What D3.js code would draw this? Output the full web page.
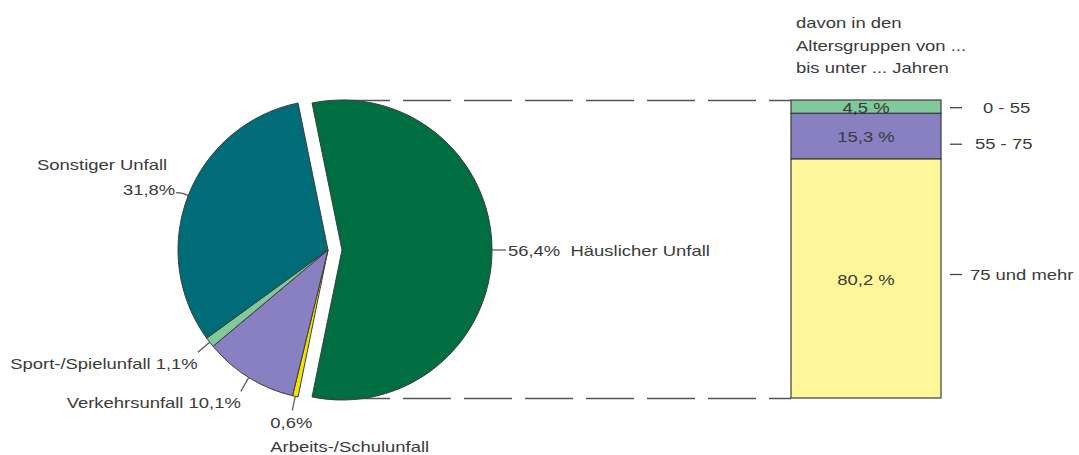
<!DOCTYPE html>
<html>
<head>
<meta charset="utf-8">
<script src="https://cdn.jsdelivr.net/npm/d3@7"></script>
<style>
html,body{margin:0;padding:0;background:#fff;}
svg{display:block;}
</style>
</head>
<body>
<svg id="chart" width="1079" height="455"></svg>
<script>
// ---- data ----
const pieCategories = ["Häuslicher Unfall", "Arbeits-/Schulunfall", "Verkehrsunfall", "Sport-/Spielunfall", "Sonstiger Unfall"];
const pieValues = [56.4, 0.6, 10.1, 1.1, 31.8];
const pieValueLabels = ["56,4%", "0,6%", "10,1%", "1,1%", "31,8%"];
const pieColors = ["#006e40", "#f2e400", "#8880c0", "#7fc99b", "#006c78"];

const ageGroups = ["0 - 55", "55 - 75", "75 und mehr"];
const ageValues = [4.5, 15.3, 80.2];
const ageValueLabels = ["4,5 %", "15,3 %", "80,2 %"];
const ageColors = ["#80c99b", "#8880c0", "#fff599"];

const headerLines = ["davon in den", "Altersgruppen von ...", "bis unter ... Jahren"];

// ---- layout ----
const svg = d3.select("#chart");
const FONT = "'Liberation Sans', Arial, sans-serif";
const SX = 1.23, FS = 15, TXT = "#3a3a3a";
const cx = 328, cy = 250, R = 150, explode = 14;

function stext(g, x, y, str, anchor) {
  return g.append("text")
    .attr("transform", `translate(${x},${y}) scale(${SX},1)`)
    .attr("text-anchor", anchor || "start")
    .attr("font-family", FONT).attr("font-size", FS)
    .attr("fill", TXT).text(str);
}

// bar scale
const yBar = d3.scaleLinear().domain([0, 100]).range([100, 398]);
const barX0 = 791, barX1 = 941;

// dashed connector lines
[0, 100].forEach(v => {
  svg.append("line")
    .attr("x1", cx + explode).attr("x2", barX0)
    .attr("y1", yBar(v) + 0.5).attr("y2", yBar(v) + 0.5)
    .attr("stroke", "#555").attr("stroke-width", 1.5)
    .attr("stroke-dasharray", "48,13");
});

// pie
const firstFrac = pieValues[0] / d3.sum(pieValues);
const start = Math.PI / 2 - firstFrac * Math.PI;
const pie = d3.pie().sort(null).value(d => d).startAngle(start).endAngle(start + 2 * Math.PI);
const arcs = pie(pieValues);
const arc = d3.arc().innerRadius(0).outerRadius(R);

const pg = svg.append("g").attr("transform", `translate(${cx},${cy})`);
pg.selectAll("path").data(arcs).join("path")
  .attr("d", arc)
  .attr("transform", (d, i) => {
    if (i !== 0) return null;
    const m = (d.startAngle + d.endAngle) / 2;
    return `translate(${explode * Math.sin(m)},${-explode * Math.cos(m)})`;
  })
  .attr("fill", (d, i) => pieColors[i])
  .attr("stroke", "#3c3c3c").attr("stroke-width", 1)
  .attr("stroke-linejoin", "round");

// pie leader lines & labels
function edge(d, i, rr) {
  const m = (d.startAngle + d.endAngle) / 2;
  const off = i === 0 ? explode : 0;
  return [cx + (off + rr) * Math.sin(m), cy - (off + rr) * Math.cos(m)];
}
const lg = svg.append("g");
function leader(p0, p1) {
  lg.append("line").attr("x1", p0[0]).attr("y1", p0[1]).attr("x2", p1[0]).attr("y2", p1[1])
    .attr("stroke", "#555").attr("stroke-width", 1.2);
}
// Häuslicher
let e = edge(arcs[0], 0, R);
leader(e, [e[0] + 14, e[1]]);
stext(lg, e[0] + 16, e[1] + 6, pieValueLabels[0] + "\u00a0\u00a0" + pieCategories[0]);
// Arbeits
e = edge(arcs[1], 1, R);
leader(e, [e[0] - 3, e[1] + 14]);
stext(lg, e[0] - 25, e[1] + 32, pieValueLabels[1]);
stext(lg, e[0] - 25, e[1] + 56, pieCategories[1]);
// Verkehr
e = edge(arcs[2], 2, R);
leader(e, [e[0] - 8, e[1] + 14]);
stext(lg, e[0] - 8, e[1] + 31, pieCategories[2] + " " + pieValueLabels[2], "end");
// Sport
e = edge(arcs[3], 3, R);
leader(e, [e[0] - 12, e[1] + 10]);
stext(lg, e[0] - 12, e[1] + 27, pieCategories[3] + " " + pieValueLabels[3], "end");
// Sonstiger
e = edge(arcs[4], 4, R);
lg.append("path")
  .attr("d", `M${e[0]},${e[1]} Q${e[0] - 5},${e[1] - 3} ${e[0] - 12},${e[1] - 3}`)
  .attr("fill", "none").attr("stroke", "#555").attr("stroke-width", 1.2);
stext(lg, e[0] - 13, e[1] - 1, pieValueLabels[4], "end");
stext(lg, e[0] - 21, e[1] - 26, pieCategories[4], "end");

// stacked bar
const bg = svg.append("g");
let acc = 0;
const segs = ageValues.map((v, i) => { const s = { i, y0: acc, y1: acc + v }; acc += v; return s; });
bg.selectAll("rect").data(segs).join("rect")
  .attr("x", barX0).attr("width", barX1 - barX0)
  .attr("y", d => yBar(d.y0)).attr("height", d => yBar(d.y1) - yBar(d.y0))
  .attr("fill", d => ageColors[d.i])
  .attr("stroke", "#3c3c3c").attr("stroke-width", 1.2);

const nudge = [1, 8, -4];
const textX = [983, 975, 970];
segs.forEach(s => {
  const mid = (yBar(s.y0) + yBar(s.y1)) / 2;
  stext(bg, (barX0 + barX1) / 2, mid + 6, ageValueLabels[s.i], "middle");
  const ly = mid + nudge[s.i];
  bg.append("line").attr("x1", 950).attr("x2", 962).attr("y1", ly).attr("y2", ly)
    .attr("stroke", "#444").attr("stroke-width", 1.3);
  stext(bg, textX[s.i], ly + 5, ageGroups[s.i]);
});

// header
headerLines.forEach((t, i) => stext(svg, 796, 28 + i * 22.5, t));
</script>
</body>
</html>
